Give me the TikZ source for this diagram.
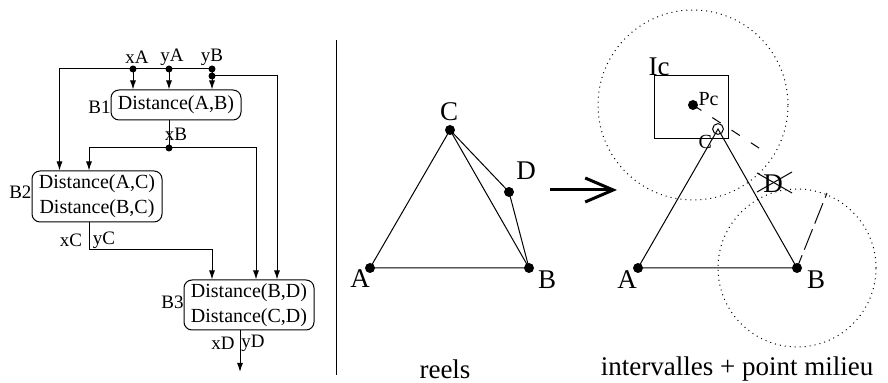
\documentclass[tikz,border=0pt]{standalone}
\usepackage{fontspec}
\setmainfont{Liberation Serif}
\usetikzlibrary{arrows.meta}

\begin{document}
\begin{tikzpicture}[x=0.5pt,y=-0.5pt,>={Latex[length=4.5pt,width=3pt]},line width=0.5pt,
  box/.style={draw,rounded corners=4pt,minimum width=65pt,inner sep=0pt,align=center,font=\fontsize{10}{12.5}\selectfont},
  lbl/.style={inner sep=0pt,font=\fontsize{9.5}{11}\selectfont},
  pnt/.style={inner sep=0pt,font=\fontsize{13.5}{15}\selectfont}]
\useasboundingbox (0,0) rectangle (888,383);
% blocs
\node[box,minimum height=15pt] (b1) at (176,105) {Distance(A,B)};
\node[box,minimum height=25.5pt] (b2) at (97,196.5) {Distance(A,C)\\Distance(B,C)};
\node[box,minimum height=25pt] (b3) at (249,305) {Distance(B,D)\\Distance(C,D)};
\node[lbl,anchor=east] at (111,107) {B1};
\node[lbl,anchor=east] at (32,192) {B2};
\node[lbl,anchor=east] at (184,302) {B3};
\coordinate (xA) at (133,69);
\coordinate (yA) at (169,69);
\coordinate (yB) at (212,69);
\coordinate (yB2) at (212,76);
\coordinate (xB) at (169,148);
\coordinate (xyC) at (89,250);
\coordinate (xyD) at (240,372);
\node[lbl] at (137,57) {xA};
\node[lbl] at (172,57) {yA};
\node[lbl] at (212,57) {yB};
\node[lbl] at (176,134) {xB};
\node[lbl] at (71,240) {xC};
\node[lbl] at (104,240) {yC};
\node[lbl] at (223,343) {xD};
\node[lbl] at (253,343) {yD};
\draw[->] (yB) -| ([xshift=14pt]b2.north west);
\draw[->] (xA) -- (xA |- b1.north);
\draw[->] (yA) -- (yA |- b1.north);
\draw[->] (yB) -- (yB |- b1.north);
\draw[->] (yB2) -| ([xshift=14pt]b3.north);
\draw (yA |- b1.south) -- (xB);
\draw[->] (xB) -| ([xshift=-4pt]b2.north);
\draw[->] (xB) -| ([xshift=3.5pt]b3.north);
\draw[->] ([xshift=-4pt]b2.south) -- (xyC) -| ([xshift=-18.5pt]b3.north);
\draw[->] ([xshift=-4.5pt]b3.south) -- (xyD);
\foreach \p in {xA,yA,yB,yB2,xB} \fill (\p) circle (1.75pt);
% separation
\draw (336,40) -- (336,375);
% reels
\coordinate (rA) at (370,268);
\coordinate (rB) at (529,268);
\coordinate (rC) at (450,130);
\coordinate (rD) at (509,192);
\draw (rA) -- (rB) -- (rC) -- cycle;
\draw (rC) -- (rD) -- (rB);
\foreach \p in {rA,rB,rC,rD} \fill (\p) circle (2.5pt);
\node[pnt] at (360,279) {A};
\node[pnt] at (547,280) {B};
\node[pnt] at (449,112) {C};
\node[pnt] at (526,171) {D};
\node[pnt] at (445,369) {reels};
\coordinate (arS) at (550,190);
\coordinate (arE) at (617,190);
\draw[line width=1.5pt,-{Straight Barb[length=14pt,width=12pt]}] (arS) -- (arE);
% intervalles
\coordinate (iA) at (638,268);
\coordinate (iB) at (797,268);
\coordinate (iC) at (718,129);
\coordinate (iPc) at (693,105);
\draw (654,76) rectangle (728,139);
\draw[dotted] (iPc) circle (47.5pt);
\draw[dotted] (iB) circle (39.5pt);
\draw (iA) -- (iB) -- (iC) -- cycle;
\draw (iC) circle (2.7pt);
\draw[dash pattern=on 5pt off 6.5pt] (iPc) -- (762,150);
\draw[dash pattern=on 11pt off 3pt,dash phase=8.5pt] (827,193) -- (iB);
\fill (iA) circle (2.5pt);
\fill (iB) circle (2.5pt);
\fill (iPc) circle (2.5pt);
\node[pnt,anchor=base west] at (648,76) {Ic};
\node[inner sep=0pt,anchor=base west,font=\fontsize{10}{12}\selectfont] at (698,106) {Pc};
\node[inner sep=0pt,anchor=base west,font=\fontsize{10}{12}\selectfont] at (698,149) {C};
\node[pnt] (iD) at (773,184) {D};
\draw ([shift={(-16,-11)}]iD.center) -- ([shift={(19,9)}]iD.center);
\draw ([shift={(-16,8)}]iD.center) -- ([shift={(19,-12)}]iD.center);
\node[pnt] at (627,280) {A};
\node[pnt] at (816,280) {B};
\node[pnt] at (737,369) {intervalles + point milieu};
\end{tikzpicture}
\end{document}
